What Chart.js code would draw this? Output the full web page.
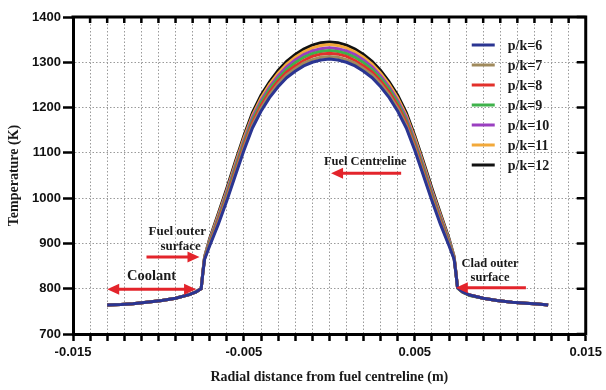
<!DOCTYPE html>
<html>
<head>
<meta charset="utf-8">
<script src="https://cdn.jsdelivr.net/npm/chart.js@4.4.1/dist/chart.umd.min.js"></script>
<style>
  body { margin: 0; background: #fff; }
  #wrap { width: 606px; height: 390px; }
</style>
</head>
<body>
<div id="wrap"><canvas id="tempChart" width="606" height="390"></canvas></div>
<script>
// radial position (m), shared by all series
const radialPos = [
  -0.013, -0.0122, -0.0115, -0.0107, -0.0098, -0.009, -0.0082, -0.0078,
  -0.0075, -0.0074,
  -0.0073, -0.007, -0.0065, -0.006, -0.0055, -0.005, -0.0045, -0.004, -0.0035, -0.003, -0.0025, -0.002, -0.0015, -0.001, -0.0005,
  0,
  0.0005, 0.001, 0.0015, 0.002, 0.0025, 0.003, 0.0035, 0.004, 0.0045, 0.005, 0.0055, 0.006, 0.0065, 0.007, 0.0073,
  0.0074, 0.0075,
  0.0078, 0.0082, 0.009, 0.0098, 0.0107, 0.0115, 0.0122, 0.0128
];

// temperature (K) for each p/k
const tempPk6 = [764,765,767,770,774,779,787,793, 800,835,
  865,895,942,994,1050,1105,1155,1192,1222,1246,1266,1280,1292,1300,1305, 1307,
  1305,1300,1292,1280,1266,1246,1222,1192,1155,1105,1050,994,942,895,865,
  835,802, 793,786,779,774,770,768,766,764];
const tempPk7 = [764,765,767,770,774,779,787,793, 800,835,
  866,898,946,999,1055,1111,1161,1198,1228,1252,1272,1286,1298,1306,1311, 1313,
  1311,1306,1298,1286,1272,1252,1228,1198,1161,1111,1055,999,946,898,866,
  835,802, 793,786,779,774,770,768,766,764];
const tempPk8 = [764,765,767,770,774,779,787,793, 800,836,
  867,900,950,1003,1060,1116,1166,1204,1234,1258,1278,1292,1304,1313,1318, 1320,
  1318,1313,1304,1292,1278,1258,1234,1204,1166,1116,1060,1003,950,900,867,
  836,802, 793,786,779,774,770,768,766,764];
const tempPk9 = [764,765,767,770,774,779,787,793, 800,836,
  868,903,954,1008,1066,1122,1172,1210,1240,1264,1284,1299,1311,1319,1324, 1326,
  1324,1319,1311,1299,1284,1264,1240,1210,1172,1122,1066,1008,954,903,868,
  836,801, 792,785,779,774,770,768,766,764];
const tempPk10 = [764,765,767,770,774,779,787,793, 800,837,
  869,906,958,1013,1071,1127,1178,1215,1245,1270,1290,1305,1317,1325,1330, 1332,
  1330,1325,1317,1305,1290,1270,1245,1215,1178,1127,1071,1013,958,906,869,
  837,802, 793,786,779,774,770,768,766,764];
const tempPk11 = [764,765,767,770,774,779,787,793, 800,837,
  870,908,962,1017,1076,1133,1183,1221,1251,1276,1296,1311,1323,1332,1337, 1339,
  1337,1332,1323,1311,1296,1276,1251,1221,1183,1133,1076,1017,962,908,870,
  837,802, 793,786,779,774,770,768,766,764];
const tempPk12 = [764,765,767,770,774,779,787,793, 800,838,
  871,911,966,1022,1081,1138,1189,1227,1257,1282,1302,1317,1329,1338,1343, 1345,
  1343,1338,1329,1317,1302,1282,1257,1227,1189,1138,1081,1022,966,911,871,
  838,802, 793,786,779,774,770,768,766,764];

const seriesLabels = ['p/k=6', 'p/k=7', 'p/k=8', 'p/k=9', 'p/k=10', 'p/k=11', 'p/k=12'];
const seriesColors = ['#2b3592', '#a08a5c', '#e2302b', '#3fb24b', '#9a3fc0', '#f2a93a', '#111111'];
const seriesTemps = [tempPk6, tempPk7, tempPk8, tempPk9, tempPk10, tempPk11, tempPk12];

const xLabelled = [-0.015, -0.005, 0.005, 0.015];
const yTicks = [700, 800, 900, 1000, 1100, 1200, 1300, 1400];

// text notes and red arrows, placed in data units
const notes = [
  { text: 'Fuel outer', x: -0.0089, y: 925, size: 13 },
  { text: 'surface', x: -0.0087, y: 892, size: 13 },
  { text: 'Coolant', x: -0.0104, y: 828, size: 14.5 },
  { text: 'Fuel Centreline', x: 0.0021, y: 1080, size: 12.5 },
  { text: 'Clad outer', x: 0.0094, y: 856, size: 12.5 },
  { text: 'surface', x: 0.0094, y: 824, size: 12.5 }
];
const arrows = [
  { from: [-0.0107, 870], to: [-0.0076, 870], both: false },
  { from: [-0.0078, 799], to: [-0.0130, 799], both: true },
  { from: [0.0042, 1055], to: [0.0001, 1055], both: false },
  { from: [0.0115, 802], to: [0.0074, 802], both: false }
];

function arrowHead(ctx, x1, y1, x2, y2) {
  var ang = Math.atan2(y2 - y1, x2 - x1);
  var len = 12, half = 5.5;
  ctx.beginPath();
  ctx.moveTo(x2, y2);
  ctx.lineTo(x2 - len * Math.cos(ang) + half * Math.sin(ang), y2 - len * Math.sin(ang) - half * Math.cos(ang));
  ctx.lineTo(x2 - len * Math.cos(ang) - half * Math.sin(ang), y2 - len * Math.sin(ang) + half * Math.cos(ang));
  ctx.closePath();
  ctx.fill();
}

const framePlugin = {
  id: 'frame',
  afterDatasetsDraw: function(chart) {
    const ctx = chart.ctx;
    const a = chart.chartArea;
    const xs = chart.scales.x, ys = chart.scales.y;
    ctx.save();
    ctx.strokeStyle = '#000';
    ctx.lineWidth = 3;
    ctx.beginPath();
    ctx.moveTo(a.left - 1.5, a.top);
    ctx.lineTo(a.right, a.top);
    ctx.lineTo(a.right, a.bottom + 1.5);
    ctx.stroke();
    // inward ticks on top and right
    ctx.lineWidth = 2.5;
    ctx.beginPath();
    for (var v = -14; v <= 14; v++) {
      var px = xs.getPixelForValue(v / 1000);
      ctx.moveTo(px, a.top);
      ctx.lineTo(px, a.top + 6);
    }
    yTicks.forEach(function(t) {
      var py = ys.getPixelForValue(t);
      ctx.moveTo(a.right, py);
      ctx.lineTo(a.right - 9, py);
    });
    ctx.stroke();

    // annotations
    ctx.strokeStyle = '#e3242b';
    ctx.fillStyle = '#e3242b';
    ctx.lineWidth = 3;
    arrows.forEach(function(ar) {
      var x1 = xs.getPixelForValue(ar.from[0]), y1 = ys.getPixelForValue(ar.from[1]);
      var x2 = xs.getPixelForValue(ar.to[0]), y2 = ys.getPixelForValue(ar.to[1]);
      var dir = x2 > x1 ? 1 : -1;
      ctx.beginPath();
      ctx.moveTo(ar.both ? x1 + dir * 8 : x1, y1);
      ctx.lineTo(x2 - dir * 8, y2);
      ctx.stroke();
      arrowHead(ctx, x1, y1, x2, y2);
      if (ar.both) arrowHead(ctx, x2, y2, x1, y1);
    });
    ctx.fillStyle = '#1a1a1a';
    ctx.textAlign = 'center';
    ctx.textBaseline = 'middle';
    notes.forEach(function(n) {
      ctx.font = 'bold ' + n.size + 'px "Liberation Serif", serif';
      ctx.fillText(n.text, xs.getPixelForValue(n.x), ys.getPixelForValue(n.y));
    });

    // legend inside the plot, upper right
    ctx.font = 'bold 14px "Liberation Serif", serif';
    ctx.textAlign = 'left';
    chart.data.datasets.forEach(function(ds, i) {
      var ly = a.top + 28 + i * 20;
      ctx.strokeStyle = ds.borderColor;
      ctx.lineWidth = 3;
      ctx.beginPath();
      ctx.moveTo(a.right - 114, ly);
      ctx.lineTo(a.right - 91, ly);
      ctx.stroke();
      ctx.fillStyle = '#1a1a1a';
      ctx.fillText(ds.label, a.right - 78, ly + 1);
    });
    ctx.restore();
  }
};

document.addEventListener('DOMContentLoaded', function() {
  const ctx = document.getElementById('tempChart');

  const datasets = seriesTemps.map(function(temps, i) {
    return {
      label: seriesLabels[i],
      data: temps.map(function(t, j) { return { x: radialPos[j], y: t }; }),
      borderColor: seriesColors[i],
      backgroundColor: seriesColors[i],
      borderWidth: 3,
      pointRadius: 0,
      tension: 0,
      fill: false
    };
  });

  new Chart(ctx, {
    type: 'line',
    data: { datasets: datasets },
    options: {
      responsive: false,
      animation: false,
      layout: { padding: { top: 17, right: 19, left: 0, bottom: 0 } },
      plugins: {
        legend: { display: false },
        tooltip: { enabled: false }
      },
      scales: {
        x: {
          type: 'linear',
          min: -0.015,
          max: 0.015,
          afterFit: function(scale) { scale.height = 56; },
          border: { color: '#000', width: 3, dash: [1.5, 2] },
          grid: { color: '#9a9a9a', lineWidth: 1, tickColor: '#000', tickWidth: 2.5, tickLength: 7, tickBorderDash: [] },
          ticks: {
            stepSize: 0.001,
            autoSkip: false,
            maxRotation: 0,
            padding: 4,
            color: '#111',
            font: { family: '"Liberation Sans", Arial, sans-serif', size: 13, weight: 'bold' },
            callback: function(value) {
              var hit = xLabelled.some(function(t) { return Math.abs(t - value) < 1e-7; });
              return hit ? value.toFixed(3) : '';
            }
          },
          title: {
            display: true,
            text: 'Radial distance from fuel centreline (m)',
            color: '#1a1a1a',
            font: { family: '"Liberation Serif", serif', size: 14, weight: 'bold' },
            padding: { top: 0, bottom: 4 }
          }
        },
        y: {
          min: 700,
          max: 1400,
          afterFit: function(scale) { scale.width = 73; },
          border: { color: '#000', width: 3, dash: [1.5, 2] },
          grid: { color: '#9a9a9a', lineWidth: 1, tickColor: '#000', tickWidth: 2.5, tickLength: 10, tickBorderDash: [] },
          ticks: {
            stepSize: 100,
            padding: 2,
            color: '#111',
            font: { family: '"Liberation Sans", Arial, sans-serif', size: 13, weight: 'bold' },
            callback: function(value) { return String(value); }
          },
          title: {
            display: true,
            text: 'Temperature (K)',
            color: '#1a1a1a',
            font: { family: '"Liberation Serif", serif', size: 14, weight: 'bold' },
            padding: { top: 6, bottom: 0 }
          }
        }
      }
    },
    plugins: [framePlugin]
  });
});
</script>
</body>
</html>
